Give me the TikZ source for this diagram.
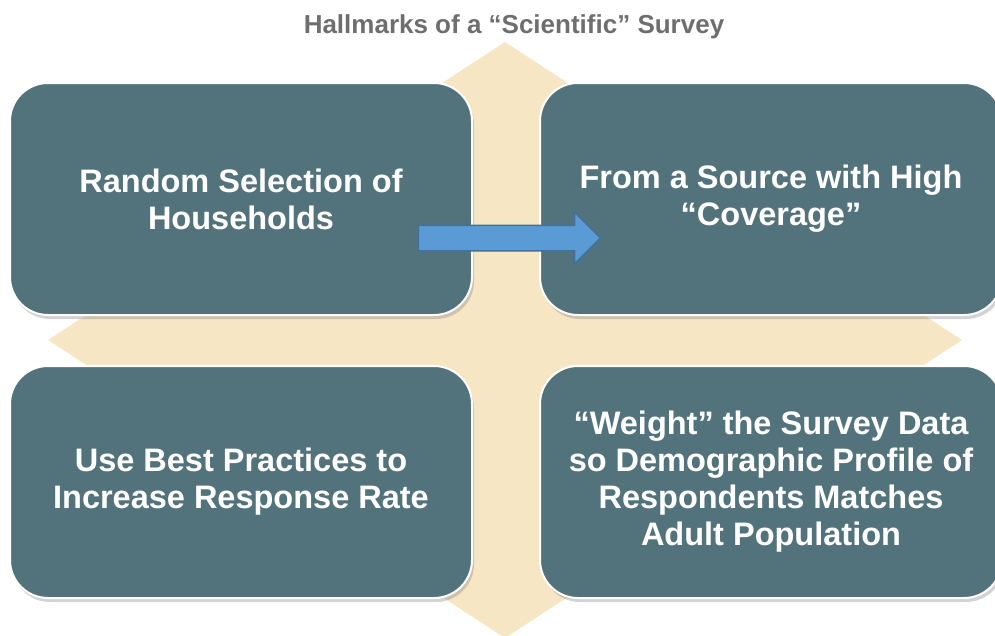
\documentclass[tikz,border=0pt]{standalone}
\usepackage{fontspec}
\setmainfont{Liberation Sans}
\usetikzlibrary{positioning,shapes.arrows,shadows}

\definecolor{slate}{RGB}{83,115,124}
\definecolor{sand}{RGB}{247,230,196}
\definecolor{flowblue}{RGB}{91,155,213}
\definecolor{flowedge}{RGB}{65,113,156}
\definecolor{titlegray}{RGB}{110,110,110}

\begin{document}
\begin{tikzpicture}[x=1pt, y=-1pt,
  box/.style = {draw=white, line width=2pt, fill=slate, rounded corners=38pt,
    minimum width=462pt, minimum height=232pt, text=white, align=center,
    font=\bfseries\fontsize{32.5}{37}\selectfont,
    drop shadow={shadow xshift=2pt, shadow yshift=-4pt, opacity=0.35}},
  node distance={49pt and 66pt}]
        \useasboundingbox (0,0) rectangle (995,635);
        % backdrop
        \fill[sand] (505,42) -- (962,340) -- (505,638) -- (48,340) -- cycle;
        \node[font=\bfseries\fontsize{26}{30}\selectfont, text=titlegray] (title) at (514,27) {Hallmarks of a “Scientific” Survey};
        \node[box] (random) at (241,199) {Random Selection of\\Households};
        \node[box] (coverage) [right=of random] {From a Source with High\\“Coverage”};
        \node[box] (practices) [below=of random] {Use Best Practices to\\Increase Response Rate};
        \node[box] (weight) [right=of practices] {“Weight” the Survey Data\\so Demographic Profile of\\Respondents Matches\\Adult Population};
        \node[single arrow, fill=flowblue, draw=flowedge, line width=1.5pt, minimum height=182pt,
          inner xsep=0pt, inner ysep=12pt, single arrow head extend=13pt] (flow) at (503,238) {};
\end{tikzpicture}
\end{document}
